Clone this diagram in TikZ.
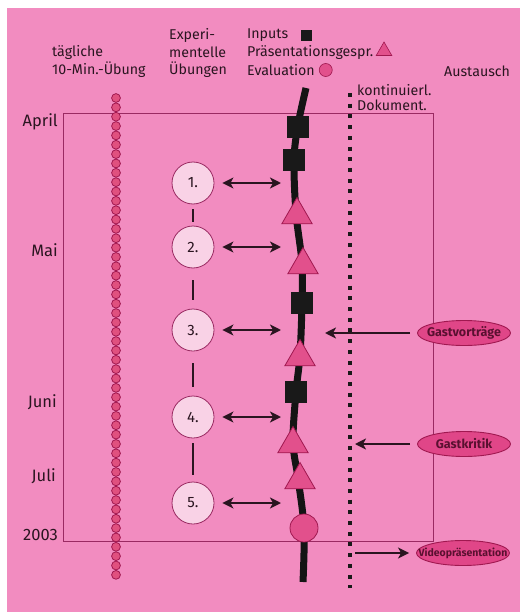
\documentclass[tikz,border=0pt]{standalone}
\usepackage{fontspec}
\setmainfont{Fira Sans}
\usetikzlibrary{arrows.meta,shapes.geometric}
\definecolor{bg}{HTML}{F28CC0}
\definecolor{ink}{HTML}{2A1520}
\definecolor{framec}{HTML}{9A2A62}
\definecolor{dotfill}{HTML}{E0507F}
\definecolor{dotline}{HTML}{A01850}
\definecolor{expfill}{HTML}{F9D2E6}
\definecolor{tripink}{HTML}{E2508C}
\definecolor{ellfill}{HTML}{E04688}
\definecolor{elltext}{HTML}{5A1030}
\tikzset{
  lbl/.style={text=ink, font=\fontsize{14.2}{16}\selectfont, inner sep=0pt},
  mon/.style={text=ink, font=\fontsize{16.5}{18}\selectfont, inner sep=0pt, anchor=east},
  dotc/.style={circle, draw=dotline, fill=dotfill, line width=0.8pt, minimum size=8.8pt, inner sep=0pt},
  expc/.style={circle, draw=framec, fill=expfill, line width=0.8pt, minimum size=42pt, inner sep=0pt, text=ink, font=\fontsize{15}{17}\selectfont},
  sq/.style={rectangle, fill=black!90, minimum size=22pt, inner sep=0pt},
  tri/.style={regular polygon, regular polygon sides=3, draw=dotline, fill=tripink, line width=0.8pt, minimum size=35pt, inner sep=0pt},
  evc/.style={circle, draw=dotline, fill=tripink, line width=0.8pt, minimum size=28pt, inner sep=0pt},
  ell/.style={ellipse, draw=dotline, fill=ellfill, line width=0.9pt, minimum width=93pt, minimum height=25pt, inner sep=0pt, text=elltext, font=\fontsize{12.5}{14}\selectfont\bfseries},
  arr/.style={line width=2.8pt, draw=ink, -{Stealth[length=11pt,width=11pt,inset=3pt]}},
  dbl/.style={line width=2.8pt, draw=ink, {Stealth[length=11pt,width=11pt,inset=3pt]}-{Stealth[length=11pt,width=11pt,inset=3pt]}},
  eline/.style={line width=2.2pt, draw=ink},
  curve/.style={line width=7pt, draw=black!92},
  dots/.style={line width=4pt, draw=black!90, dash pattern=on 4pt off 6.7pt},
}
\begin{document}
\begin{tikzpicture}[x=1pt,y=-1pt]
\useasboundingbox (0,0) rectangle (520,615);
\fill[white] (0,0) rectangle (520,615);
\fill[bg] (7,8) rectangle (520,612);
% frame
\draw[framec, line width=0.9pt] (63,113) rectangle (433,541);
% headers
\node[lbl, anchor=west] (h1a) at (52,52) {tägliche};
\node[lbl, anchor=west] (h1b) at (52,70) {10-Min.-Übung};
\node[lbl, anchor=west] (h2a) at (169,35) {Experi-};
\node[lbl, anchor=west] (h2b) at (169,52) {mentelle};
\node[lbl, anchor=west] (h2c) at (169,70) {Übungen};
\node[lbl, anchor=west] (h3a) at (247,35) {Inputs};
\node[lbl, anchor=west] (h3b) at (247,52) {Präsentationsgespr.};
\node[lbl, anchor=west] (h3c) at (247,70) {Evaluation};
\node[rectangle, fill=black!90, minimum size=11pt, inner sep=0pt, anchor=west] (lgsq) at ([xshift=12pt,yshift=-1pt]h3a.east) {};
\node[regular polygon, regular polygon sides=3, draw=dotline, fill=tripink, line width=0.6pt, minimum size=18pt, inner sep=0pt, anchor=west] (lgtri) at ([xshift=5pt,yshift=1pt]h3b.east) {};
\node[circle, draw=dotline, fill=tripink, line width=0.6pt, minimum size=13pt, inner sep=0pt, anchor=west] (lgev) at ([xshift=4pt]h3c.east) {};
\node[lbl, anchor=west] (h4) at (444,71) {Austausch};
\node[lbl, anchor=west] (kd1) at (357,90) {kontinuierl.};
\node[lbl, anchor=west] (kd2) at (357,105) {Dokument.};
% months
\node[mon] (m1) at (58,122) {April};
\node[mon] (m2) at (58,250) {Mai};
\node[mon] (m3) at (57,402) {Juni};
\node[mon] (m4) at (56,476) {Juli};
\node[mon] (m5) at (58,535) {2003};
% daily dots
\foreach \i in {0,...,51} \node[dotc] (d\i) at (116,{98+\i*9.35}) {};
% documentation dotted line
\coordinate (dtop) at (350,93);
\coordinate (dbot) at (350,588);
\draw[dots] (dtop) -- (dbot);
% main curve
\draw[curve] plot[smooth, tension=0.55] coordinates {(306,88) (298,125) (294,160) (296,213) (302,263) (302,303) (300,355) (296,392) (293,442) (298,478) (304,528) (303,582)};
% markers on curve
\node[sq] (s1) at (298,127) {};
\node[sq] (s2) at (294,160) {};
\node[tri] (t1) at (297,215) {};
\node[tri] (t2) at (303,265) {};
\node[sq] (s3) at (302,303) {};
\node[tri] (t3) at (300,357) {};
\node[sq] (s4) at (296,392) {};
\node[tri] (t4) at (293,444) {};
\node[tri] (t5) at (300,480) {};
\node[evc] (ev) at (304,528) {};
% experiments
\node[expc] (e1) at (193,183) {1.};
\node[expc] (e2) at (193,247) {2.};
\node[expc] (e3) at (193,330) {3.};
\node[expc] (e4) at (193,417) {4.};
\node[expc] (e5) at (193,503) {5.};
\draw[eline, shorten <=5pt, shorten >=4pt] (e1) -- (e2);
\draw[eline, shorten <=12pt, shorten >=9pt] (e2) -- (e3);
\draw[eline, shorten <=12pt, shorten >=9pt] (e3) -- (e4);
\draw[eline, shorten <=5pt, shorten >=7pt] (e4) -- (e5);
\foreach \k/\y in {1/183,2/247,3/330,4/417,5/503}{
  \coordinate (a\k) at (281,\y);
  \draw[dbl] ([xshift=8pt]e\k.east) -- (a\k);
}
% exchange
\node[ell] (g1) at (464,333) {\makebox[0pt][c]{Gastvorträge}};
\node[ell] (g2) at (464,444) {\makebox[0pt][c]{Gastkritik}};
\node[ell, font=\fontsize{10.5}{12}\selectfont\bfseries] (g3) at (463,553) {\makebox[0pt][c]{Videopräsentation}};
\coordinate (g1end) at (325,333);
\coordinate (g2end) at (355,444);
\coordinate (g3start) at (355,553);
\draw[arr] ([xshift=-7pt]g1.west) -- (g1end);
\draw[arr] ([xshift=-7pt]g2.west) -- (g2end);
\draw[arr] (g3start) -- ([xshift=-7pt]g3.west);
\end{tikzpicture}
\end{document}
